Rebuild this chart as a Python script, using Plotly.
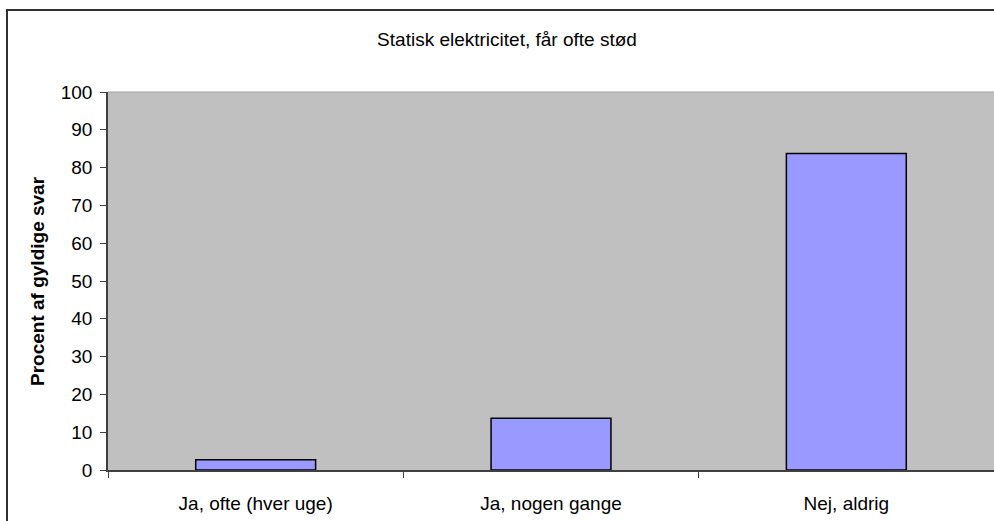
import plotly.graph_objects as go

# data
categories = ["Ja, ofte (hver uge)", "Ja, nogen gange", "Nej, aldrig"]
percent = [2.7, 13.7, 83.7]
y_ticks = list(range(0, 101, 10))

W, H = 994, 521
L, T, B, R = 108, 92, 51, 0
plot_w = W - L - R
plot_h = H - T - B

FONT = "Liberation Sans, Arial, sans-serif"

fig = go.Figure()
fig.add_trace(go.Bar(
    x=categories,
    y=percent,
    marker=dict(color="#9999FF", line=dict(color="#000000", width=1.5)),
    hoverinfo="x+y",
))

fig.update_layout(
    width=W, height=H,
    margin=dict(l=L, r=R, t=T, b=B),
    paper_bgcolor="white",
    plot_bgcolor="#C0C0C0",
    font=dict(family=FONT, size=19, color="black"),
    bargap=0.594,
    showlegend=False,
    title=dict(
        text="Statisk elektricitet, får ofte stød",
        x=507 / W, xanchor="center",
        y=1 - 39 / H, yanchor="middle", yref="container",
        font=dict(size=19),
    ),
    xaxis=dict(
        type="category",
        showline=True, linecolor="#404040", linewidth=1.5,
        ticks="outside", tickson="boundaries", ticklen=6,
        tickcolor="#404040", ticklabelstandoff=15,
        showgrid=False, zeroline=False,
    ),
    yaxis=dict(
        range=[0, 100],
        tickvals=y_ticks,
        showline=True, linecolor="#404040", linewidth=1.5,
        ticks="outside", ticklen=6, tickcolor="#404040",
        ticklabelstandoff=4,
        showgrid=False, zeroline=False,
    ),
    annotations=[dict(
        text="<b>Procent af gyldige svar</b>",
        textangle=-90,
        xref="paper", yref="paper",
        x=(37 - L) / plot_w, y=0.5,
        xanchor="center", yanchor="middle",
        showarrow=False,
        font=dict(size=19),
    )],
    shapes=[
        # light line on top of the plot area
        dict(type="line", xref="paper", yref="paper",
             x0=0, x1=1, y0=1, y1=1, line=dict(color="#A0A0A0", width=1)),
        # outer chart frame (right and bottom fall outside the image)
        dict(type="rect", xref="paper", yref="paper",
             x0=(7 - L) / plot_w, x1=1.05,
             y0=-0.3, y1=(H - B - 10) / plot_h,
             line=dict(color="#303030", width=2)),
    ],
)

# page body has a default 8px margin; drop it so the chart sits at 0,0
fig.write_html("out.html", config={"displayModeBar": False},
               post_script="document.body.style.margin='0';")
